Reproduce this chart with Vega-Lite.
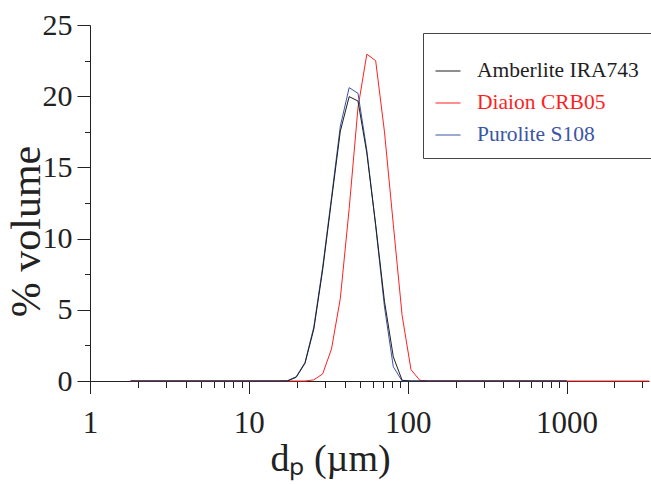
{
  "$schema": "https://vega.github.io/schema/vega-lite/v6.json",
  "autosize": {"type": "none"},
  "padding": {"left": 90, "top": 25, "right": 2, "bottom": 103},
  "width": 559,
  "height": 356,
  "config": {
    "view": {"stroke": null},
    "font": "Liberation Serif",
    "axis": {"grid": false, "domainColor": "#222", "tickColor": "#222", "labelColor": "#222", "titleColor": "#222", "labelFont": "Liberation Serif", "titleFont": "Liberation Serif", "titleFontWeight": "normal", "domainWidth": 1, "tickWidth": 1, "labelFlush": false}
  },
  "data": {
    "values": [
      {"resin": "Diaion CRB05", "d": 1.8, "v": 0},
      {"resin": "Diaion CRB05", "d": 19.85, "v": 0},
      {"resin": "Diaion CRB05", "d": 22.56, "v": 0},
      {"resin": "Diaion CRB05", "d": 25.64, "v": 0.08},
      {"resin": "Diaion CRB05", "d": 29.14, "v": 0.5},
      {"resin": "Diaion CRB05", "d": 33.12, "v": 2.25},
      {"resin": "Diaion CRB05", "d": 37.64, "v": 5.8},
      {"resin": "Diaion CRB05", "d": 42.78, "v": 12.1},
      {"resin": "Diaion CRB05", "d": 48.62, "v": 19.2},
      {"resin": "Diaion CRB05", "d": 55.26, "v": 22.95},
      {"resin": "Diaion CRB05", "d": 62.8, "v": 22.5},
      {"resin": "Diaion CRB05", "d": 71.37, "v": 17.5},
      {"resin": "Diaion CRB05", "d": 81.11, "v": 11.0},
      {"resin": "Diaion CRB05", "d": 92.18, "v": 4.6},
      {"resin": "Diaion CRB05", "d": 104.8, "v": 0.8},
      {"resin": "Diaion CRB05", "d": 119.1, "v": 0.05},
      {"resin": "Diaion CRB05", "d": 135.3, "v": 0},
      {"resin": "Diaion CRB05", "d": 3300, "v": 0},
      {"resin": "Purolite S108", "d": 1.8, "v": 0},
      {"resin": "Purolite S108", "d": 15.37, "v": 0},
      {"resin": "Purolite S108", "d": 17.47, "v": 0.02},
      {"resin": "Purolite S108", "d": 19.85, "v": 0.3},
      {"resin": "Purolite S108", "d": 22.56, "v": 1.3},
      {"resin": "Purolite S108", "d": 25.64, "v": 3.8},
      {"resin": "Purolite S108", "d": 29.14, "v": 8.0},
      {"resin": "Purolite S108", "d": 33.12, "v": 12.9},
      {"resin": "Purolite S108", "d": 37.64, "v": 17.9},
      {"resin": "Purolite S108", "d": 42.78, "v": 20.6},
      {"resin": "Purolite S108", "d": 48.62, "v": 20.2},
      {"resin": "Purolite S108", "d": 55.26, "v": 16.2},
      {"resin": "Purolite S108", "d": 62.8, "v": 10.9},
      {"resin": "Purolite S108", "d": 71.37, "v": 5.2},
      {"resin": "Purolite S108", "d": 81.11, "v": 1.0},
      {"resin": "Purolite S108", "d": 92.18, "v": 0},
      {"resin": "Purolite S108", "d": 104.8, "v": 0},
      {"resin": "Purolite S108", "d": 1000, "v": 0},
      {"resin": "Amberlite IRA743", "d": 1.8, "v": 0},
      {"resin": "Amberlite IRA743", "d": 15.37, "v": 0},
      {"resin": "Amberlite IRA743", "d": 17.47, "v": 0},
      {"resin": "Amberlite IRA743", "d": 19.85, "v": 0.26},
      {"resin": "Amberlite IRA743", "d": 22.56, "v": 1.24},
      {"resin": "Amberlite IRA743", "d": 25.64, "v": 3.65},
      {"resin": "Amberlite IRA743", "d": 29.14, "v": 7.8},
      {"resin": "Amberlite IRA743", "d": 33.12, "v": 12.7},
      {"resin": "Amberlite IRA743", "d": 37.64, "v": 17.55},
      {"resin": "Amberlite IRA743", "d": 42.78, "v": 19.97},
      {"resin": "Amberlite IRA743", "d": 48.62, "v": 19.66},
      {"resin": "Amberlite IRA743", "d": 55.26, "v": 16.0},
      {"resin": "Amberlite IRA743", "d": 62.8, "v": 11.0},
      {"resin": "Amberlite IRA743", "d": 71.37, "v": 5.6},
      {"resin": "Amberlite IRA743", "d": 81.11, "v": 1.7},
      {"resin": "Amberlite IRA743", "d": 92.18, "v": 0.05},
      {"resin": "Amberlite IRA743", "d": 104.8, "v": 0},
      {"resin": "Amberlite IRA743", "d": 119.1, "v": 0},
      {"resin": "Amberlite IRA743", "d": 1000, "v": 0}
    ]
  },
  "encoding": {
    "color": {
      "field": "resin",
      "type": "nominal",
      "scale": {"domain": ["Amberlite IRA743", "Diaion CRB05", "Purolite S108"], "range": ["#1e1e1e", "#ff1f1f", "#3a55a6"]},
      "legend": {
        "orient": "none",
        "legendX": 333,
        "legendY": 8,
        "title": " ",
        "titleFontSize": 8,
        "titlePadding": 5,
        "padding": 12,
        "strokeColor": "#444",
        "fillColor": "white",
        "symbolType": "stroke",
        "symbolSize": 625,
        "symbolStrokeWidth": 1,
        "labelFont": "Liberation Serif",
        "labelFontSize": 21.5,
        "labelOffset": 16,
        "rowPadding": 8,
        "labelLimit": 400,
        "encode": {"labels": {"update": {"fill": {"signal": "scale('color', datum.value)"}}}}
      }
    }
  },
  "layer": [
    {
      "transform": [{"filter": "datum.resin === 'Diaion CRB05'"}],
      "mark": {"type": "line", "strokeWidth": 1},
      "encoding": {
        "x": {"field": "d", "type": "quantitative", "scale": {"type": "log", "domain": [1, 3300], "nice": false},
          "axis": {"values": [1, 10, 100, 1000], "format": "d", "tickSize": 12.5, "labelFontSize": 31, "labelPadding": 15, "title": "dₚ (µm)", "titleFontSize": 38, "titleX": 240, "titleY": 89, "titleBaseline": "alphabetic", "titleAlign": "center", "titleAnchor": null}},
        "y": {"field": "v", "type": "quantitative", "scale": {"domain": [0, 25], "nice": false},
          "axis": {"values": [0, 5, 10, 15, 20, 25], "tickSize": 13, "labelFontSize": 30, "labelPadding": 5, "title": "% volume", "titleFontSize": 42, "titleAngle": -90, "titleX": -51, "titleY": 206, "titleBaseline": "alphabetic", "titleAlign": "center"}}
      }
    },
    {
      "transform": [{"filter": "datum.resin === 'Purolite S108'"}],
      "mark": {"type": "line", "strokeWidth": 1},
      "encoding": {
        "x": {"field": "d", "type": "quantitative", "scale": {"type": "log", "domain": [1, 3300], "nice": false},
          "axis": {"orient": "bottom", "values": [2, 3, 4, 5, 6, 7, 8, 9, 20, 30, 40, 50, 60, 70, 80, 90, 200, 300, 400, 500, 600, 700, 800, 900, 2000, 3000], "tickSize": 6.5, "labels": false, "domain": false, "title": null}},
        "y": {"field": "v", "type": "quantitative", "scale": {"domain": [0, 25], "nice": false},
          "axis": {"orient": "left", "values": [2.5, 7.5, 12.5, 17.5, 22.5], "tickSize": 5.5, "labels": false, "domain": false, "title": null}}
      }
    },
    {
      "transform": [{"filter": "datum.resin === 'Amberlite IRA743'"}],
      "mark": {"type": "line", "strokeWidth": 1},
      "encoding": {
        "x": {"field": "d", "type": "quantitative", "scale": {"type": "log", "domain": [1, 3300], "nice": false}, "axis": null},
        "y": {"field": "v", "type": "quantitative", "scale": {"domain": [0, 25], "nice": false}, "axis": null}
      }
    }
  ],
  "resolve": {"axis": {"x": "independent", "y": "independent"}}
}
